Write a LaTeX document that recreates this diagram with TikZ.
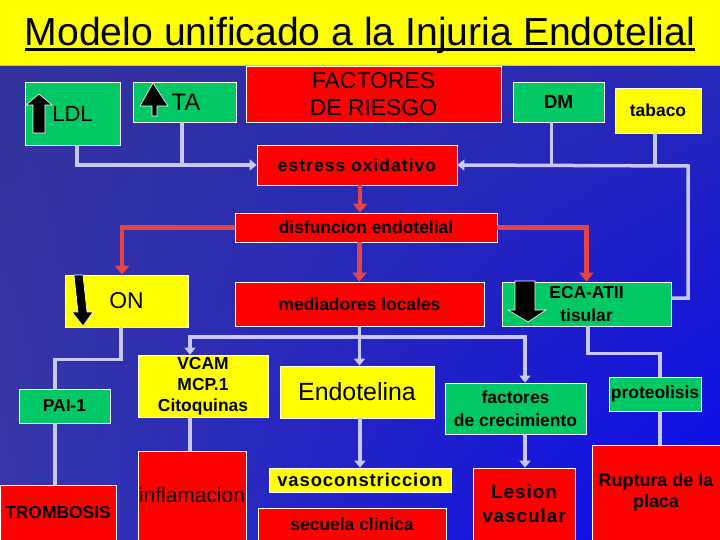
\documentclass[tikz,border=0pt]{standalone}
\usepackage{fontspec}
\setmainfont{Liberation Sans}
\usetikzlibrary{arrows.meta,calc,shadings}
\definecolor{yel}{HTML}{FFFF00}
\definecolor{grn}{HTML}{00C864}
\definecolor{rd}{HTML}{FF0000}
\definecolor{linec}{HTML}{C8C8F2}
\definecolor{rlinec}{HTML}{E44444}
\definecolor{bgA}{HTML}{32329C}
\definecolor{bgB}{HTML}{2828B8}
\definecolor{bgC}{HTML}{3838AA}
\definecolor{bgD}{HTML}{0808F4}
\begin{document}
\begin{tikzpicture}[x=1bp,y=-1bp,
  box/.style={draw=white, line width=0.7bp, inner sep=0pt, align=center, text=black,
    font=\bfseries\fontsize{17.5}{21}\selectfont},
  gbox/.style={box, fill=grn},
  ybox/.style={box, fill=yel},
  rbox/.style={box, fill=rd},
  regtext/.style={font=\fontsize{#1}{#1}\selectfont},
  wline/.style={draw=linec, line width=3.5bp},
  warr/.style={wline, -{Triangle[width=11bp,length=7bp]}},
  rarr/.style={draw=rlinec, line width=4.5bp, -{Triangle[width=14bp,length=9bp]}},
  blk/.style={fill=black, draw=white, line width=0.6bp, line join=miter}]
\useasboundingbox (0,0) rectangle (720,540);
% background
\fill[yel] (0,0) rectangle (720,66);
\shade[upper left=bgA, upper right=bgB, lower left=bgC, lower right=bgD] (0,66) rectangle (720,540);
\draw[white!70!blue, line width=1bp] (0,66) -- (720,66);
% title
\node[font=\fontsize{39.3}{46}\selectfont, anchor=base, inner sep=0pt] (title) at (360,46) {Modelo unificado a la Injuria Endotelial};
\draw[line width=3bp] ([yshift=-4bp]title.base west) -- ([yshift=-4bp]title.base east);
% nodes
\node[gbox, regtext=22, minimum width=95bp, minimum height=63bp] (ldl) at (72.5,113.5) {\raisebox{-2.5bp}{LDL}};
\node[gbox, regtext=24, minimum width=103bp, minimum height=40bp] (ta) at (184.5,102) {\hspace*{3bp}TA};
\node[rbox, font=\fontsize{23}{27}\selectfont, minimum width=255bp, minimum height=56bp] (fr) at (373.5,94) {FACTORES\\DE RIESGO};
\node[gbox, font=\bfseries\fontsize{19}{21}\selectfont, minimum width=91bp, minimum height=40bp] (dm) at (558.5,102) {DM};
\node[ybox, minimum width=86bp, minimum height=45bp] (tab) at (658,110.5) {tabaco};
\node[rbox, minimum width=200bp, minimum height=40bp] (es) at (357,165) {\addfontfeature{LetterSpace=6}estress oxidativo};
\node[rbox, minimum width=262bp, minimum height=29bp] (dis) at (366,227.5) {disfuncion endotelial};
\node[ybox, regtext=23, minimum width=123bp, minimum height=52bp] (on) at (126.5,301) {ON};
\node[rbox, minimum width=249bp, minimum height=44bp] (med) at (359.5,304) {mediadores locales};
\node[gbox, font=\bfseries\fontsize{17.5}{23}\selectfont, minimum width=169bp, minimum height=44bp] (eca) at (586.5,304) {ECA-ATII\\tisular};
\node[gbox, minimum width=91bp, minimum height=34bp] (pai) at (64.5,406) {PAI-1};
\node[ybox, font=\bfseries\fontsize{17.5}{21}\selectfont, minimum width=130bp, minimum height=62bp] (vcam) at (203,386) {VCAM\\MCP.1\\Citoquinas};
\node[ybox, regtext=25, minimum width=154bp, minimum height=52bp] (endo) at (357,392) {Endotelina};
\node[gbox, font=\bfseries\fontsize{17.5}{23}\selectfont, minimum width=141bp, minimum height=51bp] (fact) at (515.5,408.5) {factores\\de crecimiento};
\node[gbox, minimum width=92bp, minimum height=34bp] (prot) at (655,394) {proteolisis};
\node[rbox, minimum width=116bp, minimum height=55bp] (tromb) at (58,512.5) {TROMBOSIS};
\node[rbox, regtext=21, minimum width=108bp, minimum height=89bp] (infl) at (192,495.5) {inflamacion};
\node[ybox, font=\bfseries\fontsize{18.5}{21}\selectfont, minimum width=182bp, minimum height=24bp] (vaso) at (360,480) {\addfontfeature{LetterSpace=5}vasoconstriccion};
\node[rbox, minimum width=188bp, minimum height=32bp] (sec) at (352,524) {secuela clinica};
\node[rbox, font=\bfseries\fontsize{19}{24}\selectfont, minimum width=102bp, minimum height=72bp] (les) at (524,504) {\addfontfeature{LetterSpace=5}Lesion\\\addfontfeature{LetterSpace=5}vascular};
\node[rbox, font=\bfseries\fontsize{18}{21}\selectfont, minimum width=128bp, minimum height=95bp] (rup) at (656,492.5) {Ruptura de la\\placa};
% upper white connectors
\draw[warr] ([xshift=4.5bp]ldl.south) |- (es.west);
\draw[wline] ([xshift=-2.5bp]ta.south) coordinate (tas) -- (tas |- es.west);
\coordinate (rc) at (688,166);
\draw[warr] ([yshift=6bp]eca.east) -| (rc) -- (es.east);
\draw[wline] ([xshift=-7bp]dm.south) coordinate (dms) -- (dms |- es.east);
\draw[wline] ([xshift=-3bp]tab.south) coordinate (tbs) -- (tbs |- es.east);
% red connectors
\draw[rarr] ([xshift=3bp]es.south) coordinate (ess) -- (ess |- dis.north);
\draw[rarr] (dis.south -| med.north) -- (med.north);
\draw[rarr] (dis.west) -| ([xshift=-4.5bp]on.north);
\draw[rarr] (dis.east) -| (eca.north);
% lower white connectors
\draw[wline] ([xshift=-5.5bp]on.south) -- ++(0,32) -| ([xshift=-9.5bp]pai.north);
\draw[wline] ([xshift=-9.5bp]pai.south) coordinate (ps) -- (ps |- tromb.north);
\coordinate (mj) at (359.5,337);
\draw[wline] (med.south) -- (mj);
\draw[warr] (mj) -| ([xshift=-13bp]vcam.north);
\draw[warr] (mj) -| ([xshift=9.5bp]fact.north);
\draw[warr] (mj) -- (mj |- endo.north);
\draw[wline] ([xshift=-13bp]vcam.south) coordinate (vs) -- (vs |- infl.north);
\draw[warr] (endo.south -| vaso.north) -- (vaso.north);
\draw[warr] ([xshift=9.5bp]fact.south) coordinate (fs) -- (fs |- les.north);
\draw[wline] ([xshift=1.5bp]eca.south) -- ++(0,27) -| ([xshift=5bp]prot.north);
\draw[wline] ([xshift=5bp]prot.south) coordinate (prs) -- (prs |- rup.north);
% black arrows
\draw[blk] (39,94) -- (52,105) -- (45,105) -- (45,133) -- (33,133) -- (33,105) -- (26,105) -- cycle;
\draw[blk] (153,83) -- (168,106) -- (157,106) -- (157,116) -- (152,116) -- (152,106) -- (140,106) -- cycle;
\draw[blk] (74,275) -- (83,275) -- (87,312) -- (93,312) -- (83,326) -- (72,312) -- (78,312) -- cycle;
\draw[blk] (515,281) -- (535,281) -- (535,310) -- (546,310) -- (528,322) -- (508,310) -- (515,310) -- cycle;
\end{tikzpicture}
\end{document}
